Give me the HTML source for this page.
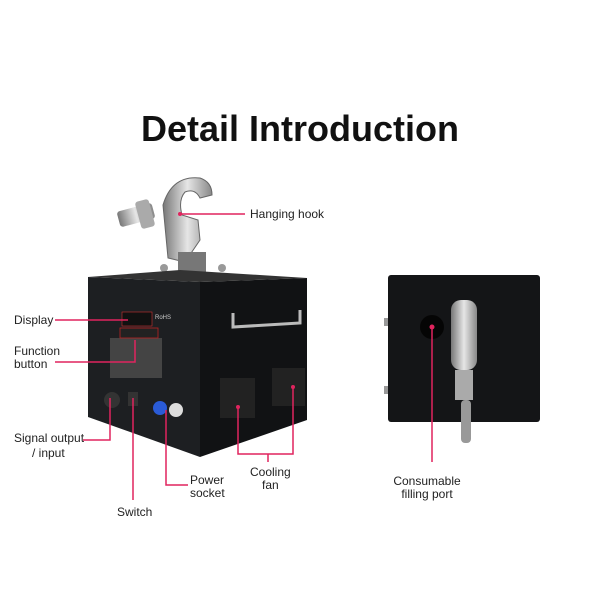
<!DOCTYPE html>
<html><head><meta charset="utf-8"><style>
body{margin:0;background:#fff}
svg{display:block}
text{font-family:"Liberation Sans",sans-serif;font-size:12px;fill:#222}
</style></head><body>
<svg width="600" height="600" viewBox="0 0 600 600">
<rect width="600" height="600" fill="#fff"/>
<text x="300" y="141" text-anchor="middle" style="font-size:36px;font-weight:bold;fill:#111">Detail Introduction</text>
<defs><linearGradient id="s" x1="0" x2="1"><stop offset="0" stop-color="#777"/><stop offset=".5" stop-color="#e6e6e6"/><stop offset="1" stop-color="#888"/></linearGradient></defs>
<!-- hook -->
<rect x="118" y="207" width="36" height="16" rx="3" fill="url(#s)" transform="rotate(-15 136 215)"/>
<rect x="138" y="200" width="14" height="28" rx="3" fill="#aaa" transform="rotate(-15 145 214)"/>
<path d="M163 205 Q172 175 200 178 Q212 182 212 195 L200 198 Q195 188 185 192 Q178 200 182 215 L198 220 L200 240 L185 262 L168 258 Z" fill="url(#s)" stroke="#666" stroke-width="1"/>
<rect x="178" y="252" width="28" height="22" fill="#777"/>
<circle cx="164" cy="268" r="4" fill="#999"/><circle cx="222" cy="268" r="4" fill="#999"/>
<!-- box -->
<polygon points="88,277 200,282 200,457 88,417" fill="#1d1f22"/>
<polygon points="200,282 307,278 307,420 200,457" fill="#111214"/>
<polygon points="88,277 180,270 307,278 200,282" fill="#333"/>
<rect x="122" y="312" width="30" height="14" fill="#111" stroke="#c33" stroke-width=".6"/>
<rect x="110" y="338" width="52" height="40" fill="#444"/>
<rect x="120" y="328" width="38" height="10" fill="#222" stroke="#b22" stroke-width=".8"/>
<text x="155" y="319" style="font-size:6px;fill:#ccc">RoHS</text>
<circle cx="112" cy="400" r="8" fill="#333"/>
<rect x="128" y="392" width="10" height="14" fill="#333"/>
<circle cx="160" cy="408" r="7" fill="#2a5bd7"/>
<circle cx="176" cy="410" r="7" fill="#ddd"/>
<path d="M233 313 L233 327 L300 323 L300 310" fill="none" stroke="#bbb" stroke-width="3"/>
<rect x="220" y="378" width="35" height="40" fill="#222"/>
<rect x="272" y="368" width="33" height="38" fill="#222"/>
<!-- right panel -->
<rect x="384" y="318" width="6" height="8" fill="#999"/>
<rect x="384" y="386" width="6" height="8" fill="#999"/>
<rect x="388" y="275" width="152" height="147" rx="3" fill="#141517"/>
<circle cx="432" cy="327" r="12" fill="#050505"/>
<rect x="451" y="300" width="26" height="70" rx="10" fill="url(#s)"/>
<rect x="455" y="370" width="18" height="30" fill="#aaa"/>
<rect x="461" y="400" width="10" height="43" rx="4" fill="#999"/>
<!-- pink lines -->
<g stroke="#e0245e" stroke-width="1.5" fill="none">
<path d="M180 214 H245"/>
<path d="M55 320 H128"/>
<path d="M55 362 H135 V340"/>
<path d="M83 440 H110 V398"/>
<path d="M133 398 V500"/>
<path d="M166 410 V485 H188"/>
<path d="M238 407 V454 H293 V387 M268 454 V462"/>
<path d="M432 327 V462"/>
</g>
<g fill="#e0245e"><circle cx="180" cy="214" r="2"/><circle cx="238" cy="407" r="2"/><circle cx="293" cy="387" r="2"/><circle cx="432" cy="327" r="2.5"/></g>
<text x="250" y="218">Hanging hook</text>
<text x="14" y="324">Display</text>
<text x="14" y="355">Function</text>
<text x="14" y="368">button</text>
<text x="14" y="442">Signal output</text>
<text x="32" y="457">/ input</text>
<text x="117" y="516">Switch</text>
<text x="190" y="484">Power</text>
<text x="190" y="497">socket</text>
<text x="250" y="476">Cooling</text>
<text x="262" y="489">fan</text>
<text x="427" y="485" text-anchor="middle">Consumable</text>
<text x="427" y="498" text-anchor="middle">filling port</text>
</svg>
</body></html>
